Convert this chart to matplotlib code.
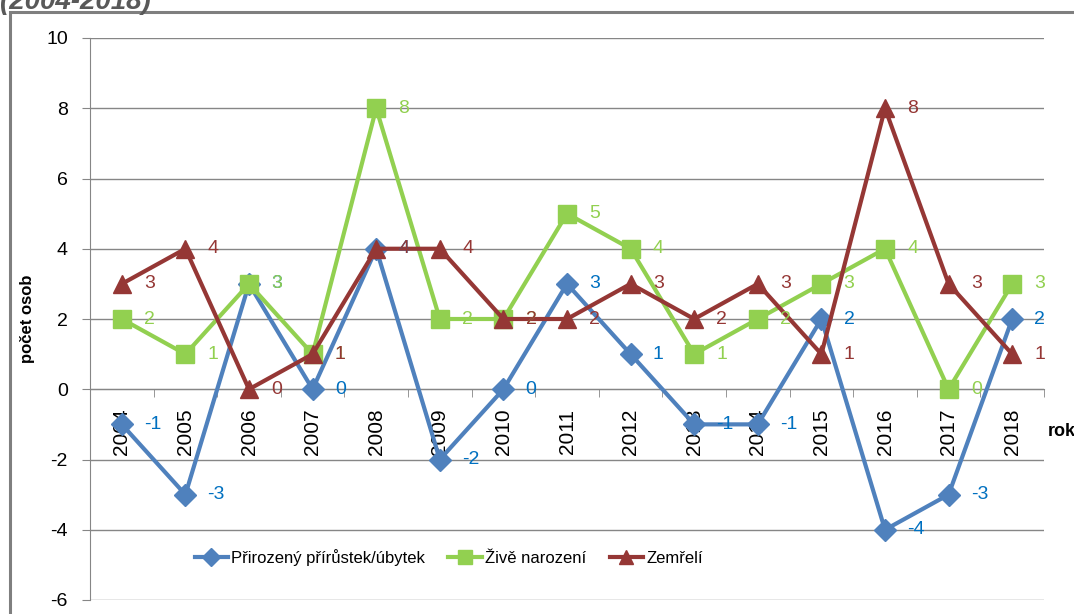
import matplotlib.pyplot as plt
import matplotlib.patches as patches

# data
roky = ['2004', '2005', '2006', '2007', '2008', '2009', '2010', '2011',
        '2012', '2013', '2014', '2015', '2016', '2017', '2018']
prirustek = [-1, -3, 3, 0, 4, -2, 0, 3, 1, -1, -1, 2, -4, -3, 2]
narozeni = [2, 1, 3, 1, 8, 2, 2, 5, 4, 1, 2, 3, 4, 0, 3]
zemreli = [3, 4, 0, 1, 4, 4, 2, 2, 3, 2, 3, 1, 8, 3, 1]

plt.rcParams['font.family'] = ['Liberation Sans', 'DejaVu Sans']
plt.rcParams['axes.unicode_minus'] = False

fig = plt.figure(figsize=(10.74, 6.14), dpi=100)
ax = fig.add_axes([90 / 1074, 1 - 600 / 614, 954 / 1074, 562 / 614])

# rámeček grafu a oříznutý nadpis
fig.patches.append(patches.Rectangle((10 / 1074, -0.01), 1.0, 1 - 12 / 614 + 0.01,
                                     transform=fig.transFigure, fill=False,
                                     edgecolor='#7f7f7f', linewidth=2.2))
fig.text(0 / 1074, 1 - 9 / 614, '(2004-2018)', fontsize=20, fontweight='bold',
         fontstyle='italic', color='#595959', va='baseline', ha='left')

x = list(range(len(roky)))
serie = [
    (prirustek, '#4f81bd', '#0070c0', 'D', 11, 'Přirozený přírůstek/úbytek'),
    (narozeni, '#92d050', '#92d050', 's', 13, 'Živě narození'),
    (zemreli, '#953735', '#953735', '^', 13, 'Zemřelí'),
]
for hodnoty, barva, barva_popisu, znacka, vel, nazev in serie:
    ax.plot(x, hodnoty, color=barva, lw=3, marker=znacka, ms=vel,
            label=nazev, clip_on=False, zorder=3)
    for xi, yi in zip(x, hodnoty):
        ax.annotate(str(yi), (xi, yi), xytext=(16, 0), textcoords='offset points',
                    color=barva_popisu, fontsize=14, va='center', ha='left', zorder=4)

ax.set_xlim(-0.5, 14.5)
ax.set_ylim(-6, 10)
ax.set_yticks(range(-6, 11, 2))
ax.yaxis.grid(True, color='#868686', lw=1)
ax.set_axisbelow(True)

ax.set_xticks(x)
ax.set_xticklabels(roky)
ax.set_xticks([i + 0.5 for i in range(-1, 15)], minor=True)
ax.tick_params(axis='x', which='major', length=0, pad=14, labelrotation=90, labelsize=15)
ax.tick_params(axis='x', which='minor', length=6, color='#868686', direction='out')
ax.tick_params(axis='y', length=6, color='#868686', labelsize=14, pad=10)

ax.spines['bottom'].set_position(('data', 0))
ax.spines['bottom'].set_color('#868686')
ax.spines['left'].set_color('#868686')
ax.spines['top'].set_visible(False)
ax.spines['right'].set_visible(False)

ax.set_ylabel('počet osob', fontsize=12, fontweight='bold', labelpad=8)
fig.text(1048 / 1074, 1 - 432 / 614, 'rok', fontsize=13, fontweight='bold', va='center')

ax.legend(loc='center', bbox_to_anchor=(0.376, 0.075), ncol=3, frameon=False,
          fontsize=12, handlelength=2.0, columnspacing=1.4, handletextpad=0.2,
          markerscale=0.8)

plt.savefig('out.png', dpi=100)
